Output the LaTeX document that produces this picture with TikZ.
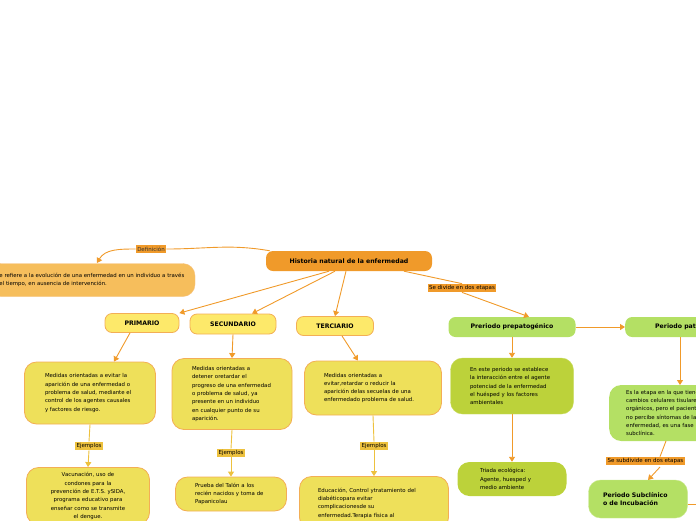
\documentclass[tikz,border=0pt]{standalone}
\usepackage{fontspec}
\setmainfont{DejaVu Sans}
\usetikzlibrary{arrows.meta}
\hyphenpenalty=10000
\exhyphenpenalty=10000
\definecolor{oran}{HTML}{F09A2A}
\definecolor{orlt}{HTML}{F6BE5C}
\definecolor{yel}{HTML}{EEE05A}
\definecolor{yelh}{HTML}{FDE96A}
\definecolor{grn}{HTML}{B4E064}
\definecolor{olv}{HTML}{BCD23A}
\definecolor{lab}{HTML}{EDC13E}
\begin{document}
\begin{tikzpicture}[x=1pt,y=-1pt,
 box/.style={rounded corners=12pt,align=left,font=\fontsize{5.4}{8.3}\selectfont,inner sep=3pt},
 ybox/.style={box,fill=yel,draw=oran!80,line width=0.8pt},
 head/.style={rounded corners=7pt,font=\bfseries\fontsize{6.2}{7}\selectfont,inner sep=2pt},
 yhead/.style={head,fill=yelh,draw=oran!80,line width=0.8pt},
 ghead/.style={head,fill=grn},
 lbl/.style={font=\fontsize{5.5}{6}\selectfont,inner sep=1.5pt},
 arr/.style={draw=oran,line width=0.9pt,-{Triangle[length=5pt,width=6pt]}},
 ln/.style={draw=oran,line width=0.9pt},
 yarr/.style={draw=lab,line width=0.9pt,-{Triangle[length=5pt,width=6pt]}},
 yln/.style={draw=lab,line width=0.9pt}]
\useasboundingbox (0,0) rectangle (696,520);
\node[head,fill=oran,minimum width=166pt,minimum height=20pt] (root) at (349,261) {Historia natural de la enfermedad};
\node[lbl,fill=oran,text=black!80] (def) at (151,249) {Definición};
\node[box,fill=orlt,minimum width=206pt,minimum height=33pt,text width=192pt,draw=oran!60] (defb) at (92,280) {Se refiere a la evolución de una enfermedad en un individuo a través del tiempo, en ausencia de intervención.};
\node[yhead,minimum width=74pt,minimum height=19pt] (pri) at (142,323) {PRIMARIO};
\node[yhead,minimum width=86pt,minimum height=20pt] (sec) at (233,324) {SECUNDARIO};
\node[yhead,minimum width=77pt,minimum height=19pt] (ter) at (335,326) {TERCIARIO};
\node[ghead,minimum width=127pt,minimum height=20pt] (pre) at (512,327) {Preriodo prepatogénico};
\node[ghead,minimum width=120pt,minimum height=20pt,anchor=west] (pat) at (625,327) {\hspace*{8pt}Periodo patogénico};
\node[ybox,minimum width=131pt,minimum height=62pt,text width=90pt] (prib) at (90,393) {Medidas orientadas a evitar la aparición de una enfermedad o problema de salud, mediante el control de los agentes causales y factores de riesgo.};
\node[ybox,minimum width=120pt,minimum height=71pt,text width=80pt] (secb) at (232,394) {Medidas orientadas a detener oretardar el progreso de una enfermedad o problema de salud, ya presente en un individuo en cualquier punto de su aparición.};
\node[ybox,minimum width=137pt,minimum height=54pt,text width=98pt] (terb) at (373,388) {Medidas orientadas a evitar,retardar o reducir la aparición delas secuelas de una enfermedado problema de salud.};
\node[box,fill=olv,draw=olv!80!white,minimum width=123pt,minimum height=56pt,text width=84pt] (preb) at (512,386) {En este periodo se establece la interacción entre el agente potenciad de la enfermedad el huésped y los factores ambientales};
\node[box,fill=olv,minimum width=109pt,minimum height=34pt,text width=64pt] (tri) at (512,479) {Triada ecológica: Agente, huesped y medio ambiente};
\node[box,fill=grn,minimum width=130pt,minimum height=56pt,text width=96pt,anchor=west] (patb) at (609,413) {Es la etapa en la que tienen cambios celulares tisulares u orgánicos, pero el paciente no percibe síntomas de la enfermedad, es una fase subclínica.};
\node[box,fill=grn,draw=grn!70!white,minimum width=99pt,minimum height=38pt,text width=70pt,font=\bfseries\fontsize{6.2}{8}\selectfont] (sub) at (638,499) {Periodo Subclínico o de Incubación};
\node[lbl,fill=lab] (e1) at (89,446) {Ejemplos};
\node[lbl,fill=lab] (e2) at (231,453) {Ejemplos};
\node[lbl,fill=lab] (e3) at (374,446) {Ejemplos};
\node[ybox,align=center,minimum width=123pt,minimum height=57pt,text width=90pt] (p1) at (88,496) {Vacunación, uso de\\ condones para la\\ prevención de E.T.S. ySIDA,\\ programa educativo para\\ enseñar como se transmite\\ el dengue.};
\node[ybox,minimum width=111pt,minimum height=34pt,text width=72pt] (p2) at (231,494) {Prueba del Talón a los recién nacidos y toma de Papanicolau};
\node[ybox,minimum width=149pt,minimum height=53pt,text width=112pt] (p3) at (374,503) {Educación, Control ytratamiento del diabéticopara evitar\\ complicacionesde su\\ enfermedad.Terapia física al};
\node[lbl,fill=oran] (div) at (462,288) {Se divide en dos etapas};
\node[lbl,fill=oran,anchor=west] (subd) at (606,461) {Se subdivide en dos etapas};
\coordinate (offr) at (700,504);
% edges
\draw[ln] (root.north west) ++(4,0) to[out=170,in=0] (def.east);
\draw[arr] (def.west) to[out=180,in=60] (97,263);
\draw[arr] (root.south) ++(-20,0) -- (pri.north east);
\draw[arr] ([xshift=-14pt]root.south) -- ([xshift=19pt]sec.north);
\draw[arr] ([xshift=-3pt]root.south) -- (ter.north);
\draw[ln] ([xshift=55pt]root.south) -- (div.north);
\draw[arr] (div.south) -- ([xshift=17pt]pre.north);
\draw[arr] (pre.east) -- (pat.west);
\draw[arr] ([xshift=-12pt]pri.south) -- ([xshift=24pt]prib.north);
\draw[arr] (sec.south) -- (secb.north);
\draw[arr] ([xshift=7pt]ter.south) -- ([xshift=-15pt]terb.north);
\draw[arr] (pre.south) -- (preb.north);
\draw[arr] (preb.south) -- (tri.north);
\draw[arr] (680,337) -- (680,385);
\draw[ln] (666,441) -- (subd.north -| 660,455);
\draw[arr] (660,467) -- (648,480);
\draw[ln] (sub.east) ++(0,5) -- (offr);
\draw[yln] (prib.south) -- (e1.north);
\draw[yarr] (e1.south) -- (p1.north);
\draw[yln] (secb.south) -- (e2.north);
\draw[yarr] (e2.south) -- (p2.north);
\draw[yln] (terb.south) -- (e3.north);
\draw[yarr] (e3.south) -- (p3.north);
\end{tikzpicture}
\end{document}
